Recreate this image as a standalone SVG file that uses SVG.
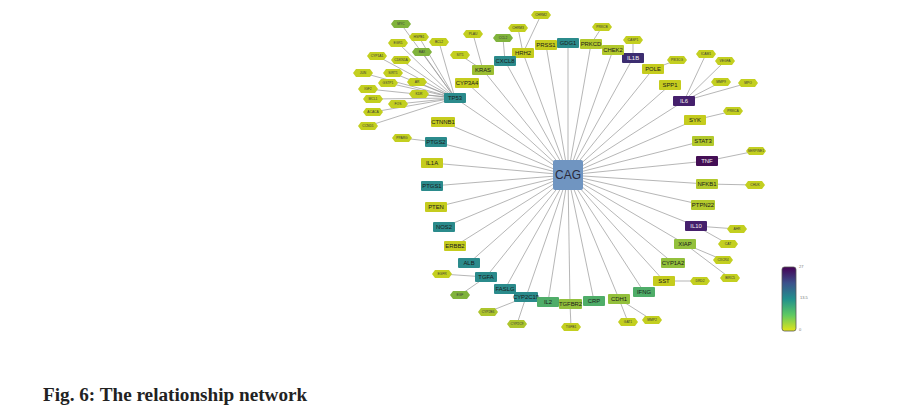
<svg xmlns="http://www.w3.org/2000/svg" xmlns:xlink="http://www.w3.org/1999/xlink" width="901" height="418" viewBox="0 0 901 418">
<style>
.e line{stroke:#969696;stroke-width:0.7}
.r{stroke:none}
.teal{fill:#2b8b8c}.yel{fill:#c5cc1e}.yg{fill:#b3c92c}.kr{fill:#9cbe32}.lg{fill:#93c03c}.grn{fill:#4fad69}.pur{fill:#45206c}.pur2{fill:#440f55}.pur3{fill:#3c2d70}
.hy{fill:#c3cf20}.hg{fill:#80b33c}.hy2{fill:#adc52d}
.t{font-family:"Liberation Sans",Arial,sans-serif;font-size:5.9px;text-anchor:middle;dominant-baseline:central;fill:#1a1a1a}
.w{fill:#f2f2f2}
.ht{font-family:"Liberation Sans",Arial,sans-serif;font-size:3.3px;text-anchor:middle;dominant-baseline:central;fill:#3a3a3a}
.cb{font-family:"Liberation Sans",Arial,sans-serif;font-size:4px;fill:#777}
</style>
<defs>
<polygon id="hx" points="-10,0 -7,-4 7,-4 10,0 7,4 -7,4"/>
<linearGradient id="vir" x1="0" y1="0" x2="0" y2="1">
<stop offset="0" stop-color="#440154"/>
<stop offset="0.25" stop-color="#3b518b"/>
<stop offset="0.5" stop-color="#21908d"/>
<stop offset="0.75" stop-color="#5ec962"/>
<stop offset="1" stop-color="#e2e418"/>
</linearGradient>
</defs>
<rect width="901" height="418" fill="#ffffff"/>
<g id="edges" class="e">
<line x1="568" y1="175" x2="568" y2="43"/>
<line x1="568" y1="175" x2="546" y2="45"/>
<line x1="568" y1="175" x2="523" y2="53"/>
<line x1="568" y1="175" x2="505" y2="61"/>
<line x1="568" y1="175" x2="483" y2="70"/>
<line x1="568" y1="175" x2="467" y2="83"/>
<line x1="568" y1="175" x2="455" y2="98"/>
<line x1="568" y1="175" x2="443" y2="122"/>
<line x1="568" y1="175" x2="436" y2="142"/>
<line x1="568" y1="175" x2="432" y2="163"/>
<line x1="568" y1="175" x2="432" y2="186"/>
<line x1="568" y1="175" x2="436" y2="207"/>
<line x1="568" y1="175" x2="444" y2="227"/>
<line x1="568" y1="175" x2="455" y2="246"/>
<line x1="568" y1="175" x2="469" y2="263"/>
<line x1="568" y1="175" x2="486" y2="277"/>
<line x1="568" y1="175" x2="505" y2="289"/>
<line x1="568" y1="175" x2="526" y2="297"/>
<line x1="568" y1="175" x2="548" y2="302"/>
<line x1="568" y1="175" x2="570" y2="304"/>
<line x1="568" y1="175" x2="594" y2="301"/>
<line x1="568" y1="175" x2="619" y2="299"/>
<line x1="568" y1="175" x2="644" y2="292"/>
<line x1="568" y1="175" x2="664" y2="281"/>
<line x1="568" y1="175" x2="673" y2="263"/>
<line x1="568" y1="175" x2="685" y2="244"/>
<line x1="568" y1="175" x2="696" y2="226"/>
<line x1="568" y1="175" x2="703" y2="205"/>
<line x1="568" y1="175" x2="707" y2="184"/>
<line x1="568" y1="175" x2="707" y2="161"/>
<line x1="568" y1="175" x2="703" y2="141"/>
<line x1="568" y1="175" x2="695" y2="120"/>
<line x1="568" y1="175" x2="684" y2="101"/>
<line x1="568" y1="175" x2="670" y2="85"/>
<line x1="568" y1="175" x2="653" y2="69"/>
<line x1="568" y1="175" x2="633" y2="58"/>
<line x1="568" y1="175" x2="613" y2="50"/>
<line x1="568" y1="175" x2="591" y2="44"/>
<line x1="455" y1="98" x2="401" y2="24"/>
<line x1="455" y1="98" x2="419" y2="37"/>
<line x1="455" y1="98" x2="439" y2="42"/>
<line x1="455" y1="98" x2="398" y2="43"/>
<line x1="455" y1="98" x2="422" y2="52"/>
<line x1="455" y1="98" x2="377" y2="56"/>
<line x1="455" y1="98" x2="401" y2="60"/>
<line x1="455" y1="98" x2="363" y2="73"/>
<line x1="455" y1="98" x2="393" y2="73"/>
<line x1="455" y1="98" x2="388" y2="83"/>
<line x1="455" y1="98" x2="417" y2="82"/>
<line x1="455" y1="98" x2="368" y2="89"/>
<line x1="455" y1="98" x2="373" y2="99"/>
<line x1="455" y1="98" x2="419" y2="94"/>
<line x1="455" y1="98" x2="398" y2="104"/>
<line x1="455" y1="98" x2="373" y2="112"/>
<line x1="455" y1="98" x2="368" y2="126"/>
<line x1="483" y1="70" x2="460" y2="55"/>
<line x1="483" y1="70" x2="473" y2="34"/>
<line x1="505" y1="61" x2="503" y2="38"/>
<line x1="523" y1="53" x2="518" y2="28"/>
<line x1="523" y1="53" x2="541" y2="15"/>
<line x1="591" y1="44" x2="602" y2="27"/>
<line x1="633" y1="58" x2="633" y2="40"/>
<line x1="653" y1="69" x2="677" y2="60"/>
<line x1="684" y1="101" x2="706" y2="54"/>
<line x1="684" y1="101" x2="725" y2="61"/>
<line x1="684" y1="101" x2="721" y2="82"/>
<line x1="684" y1="101" x2="748" y2="83"/>
<line x1="695" y1="120" x2="733" y2="111"/>
<line x1="707" y1="161" x2="756" y2="151"/>
<line x1="707" y1="184" x2="755" y2="185"/>
<line x1="696" y1="226" x2="737" y2="229"/>
<line x1="696" y1="226" x2="728" y2="244"/>
<line x1="685" y1="244" x2="723" y2="260"/>
<line x1="685" y1="244" x2="730" y2="278"/>
<line x1="664" y1="281" x2="700" y2="281"/>
<line x1="619" y1="299" x2="628" y2="322"/>
<line x1="619" y1="299" x2="652" y2="320"/>
<line x1="570" y1="304" x2="571" y2="327"/>
<line x1="486" y1="277" x2="442" y2="274"/>
<line x1="486" y1="277" x2="460" y2="295"/>
<line x1="526" y1="297" x2="488" y2="312"/>
<line x1="526" y1="297" x2="517" y2="324"/>
<line x1="436" y1="142" x2="402" y2="138"/>
</g>
<g id="hexes">
<g id="h-MYC"><use xlink:href="#hx" href="#hx" x="401" y="24" class="hg"/><text class="ht" x="401" y="24">MYC</text></g>
<g id="h-HSPB1"><use xlink:href="#hx" href="#hx" x="419" y="37" class="hy"/><text class="ht" x="419" y="37">HSPB1</text></g>
<g id="h-BCL2"><use xlink:href="#hx" href="#hx" x="439" y="42" class="hy"/><text class="ht" x="439" y="42">BCL2</text></g>
<g id="h-EGR1"><use xlink:href="#hx" href="#hx" x="398" y="43" class="hy"/><text class="ht" x="398" y="43">EGR1</text></g>
<g id="h-BAX"><use xlink:href="#hx" href="#hx" x="422" y="52" class="hg"/><text class="ht" x="422" y="52">BAX</text></g>
<g id="h-CYP1A1"><use xlink:href="#hx" href="#hx" x="377" y="56" class="hy"/><text class="ht" x="377" y="56">CYP1A1</text></g>
<g id="h-CDKN1A"><use xlink:href="#hx" href="#hx" x="401" y="60" class="hy"/><text class="ht" x="401" y="60">CDKN1A</text></g>
<g id="h-SIT1"><use xlink:href="#hx" href="#hx" x="460" y="55" class="hy"/><text class="ht" x="460" y="55">SIT1</text></g>
<g id="h-PLAU"><use xlink:href="#hx" href="#hx" x="473" y="34" class="hy"/><text class="ht" x="473" y="34">PLAU</text></g>
<g id="h-JUN"><use xlink:href="#hx" href="#hx" x="363" y="73" class="hy"/><text class="ht" x="363" y="73">JUN</text></g>
<g id="h-SIRT1"><use xlink:href="#hx" href="#hx" x="393" y="73" class="hy"/><text class="ht" x="393" y="73">SIRT1</text></g>
<g id="h-GSTP1"><use xlink:href="#hx" href="#hx" x="388" y="83" class="hy"/><text class="ht" x="388" y="83">GSTP1</text></g>
<g id="h-AR"><use xlink:href="#hx" href="#hx" x="417" y="82" class="hy"/><text class="ht" x="417" y="82">AR</text></g>
<g id="h-IGF2"><use xlink:href="#hx" href="#hx" x="368" y="89" class="hy"/><text class="ht" x="368" y="89">IGF2</text></g>
<g id="h-MCL1"><use xlink:href="#hx" href="#hx" x="373" y="99" class="hy"/><text class="ht" x="373" y="99">MCL1</text></g>
<g id="h-KDR"><use xlink:href="#hx" href="#hx" x="419" y="94" class="hy"/><text class="ht" x="419" y="94">KDR</text></g>
<g id="h-FOS"><use xlink:href="#hx" href="#hx" x="398" y="104" class="hy"/><text class="ht" x="398" y="104">FOS</text></g>
<g id="h-ACACA"><use xlink:href="#hx" href="#hx" x="373" y="112" class="hy"/><text class="ht" x="373" y="112">ACACA</text></g>
<g id="h-CCND1"><use xlink:href="#hx" href="#hx" x="368" y="126" class="hy"/><text class="ht" x="368" y="126">CCND1</text></g>
<g id="h-PPARG"><use xlink:href="#hx" href="#hx" x="402" y="138" class="hy"/><text class="ht" x="402" y="138">PPARG</text></g>
<g id="h-CCL2"><use xlink:href="#hx" href="#hx" x="503" y="38" class="hg"/><text class="ht" x="503" y="38">CCL2</text></g>
<g id="h-CHRM3"><use xlink:href="#hx" href="#hx" x="518" y="28" class="hy"/><text class="ht" x="518" y="28">CHRM3</text></g>
<g id="h-CHRM2"><use xlink:href="#hx" href="#hx" x="541" y="15" class="hy"/><text class="ht" x="541" y="15">CHRM2</text></g>
<g id="h-PRKCB"><use xlink:href="#hx" href="#hx" x="602" y="27" class="hy"/><text class="ht" x="602" y="27">PRKCB</text></g>
<g id="h-CASP1"><use xlink:href="#hx" href="#hx" x="633" y="40" class="hy"/><text class="ht" x="633" y="40">CASP1</text></g>
<g id="h-PIK3CG"><use xlink:href="#hx" href="#hx" x="677" y="60" class="hy"/><text class="ht" x="677" y="60">PIK3CG</text></g>
<g id="h-ICAM1"><use xlink:href="#hx" href="#hx" x="706" y="54" class="hy"/><text class="ht" x="706" y="54">ICAM1</text></g>
<g id="h-VEGFA"><use xlink:href="#hx" href="#hx" x="725" y="61" class="hy"/><text class="ht" x="725" y="61">VEGFA</text></g>
<g id="h-MMP9"><use xlink:href="#hx" href="#hx" x="721" y="82" class="hy"/><text class="ht" x="721" y="82">MMP9</text></g>
<g id="h-MPO"><use xlink:href="#hx" href="#hx" x="748" y="83" class="hy"/><text class="ht" x="748" y="83">MPO</text></g>
<g id="h-PRKCA"><use xlink:href="#hx" href="#hx" x="733" y="111" class="hy"/><text class="ht" x="733" y="111">PRKCA</text></g>
<g id="h-SERPINE1"><use xlink:href="#hx" href="#hx" x="756" y="151" class="hy"/><text class="ht" x="756" y="151">SERPINE1</text></g>
<g id="h-CHUK"><use xlink:href="#hx" href="#hx" x="755" y="185" class="hy"/><text class="ht" x="755" y="185">CHUK</text></g>
<g id="h-AHR"><use xlink:href="#hx" href="#hx" x="737" y="229" class="hy"/><text class="ht" x="737" y="229">AHR</text></g>
<g id="h-CAT"><use xlink:href="#hx" href="#hx" x="728" y="244" class="hy"/><text class="ht" x="728" y="244">CAT</text></g>
<g id="h-CXCR4"><use xlink:href="#hx" href="#hx" x="723" y="260" class="hy"/><text class="ht" x="723" y="260">CXCR4</text></g>
<g id="h-BIRC5"><use xlink:href="#hx" href="#hx" x="730" y="278" class="hy"/><text class="ht" x="730" y="278">BIRC5</text></g>
<g id="h-DRD2"><use xlink:href="#hx" href="#hx" x="700" y="281" class="hy"/><text class="ht" x="700" y="281">DRD2</text></g>
<g id="h-GAT1"><use xlink:href="#hx" href="#hx" x="628" y="322" class="hy"/><text class="ht" x="628" y="322">GAT1</text></g>
<g id="h-MMP2"><use xlink:href="#hx" href="#hx" x="652" y="320" class="hy"/><text class="ht" x="652" y="320">MMP2</text></g>
<g id="h-TGFB1"><use xlink:href="#hx" href="#hx" x="571" y="327" class="hy"/><text class="ht" x="571" y="327">TGFB1</text></g>
<g id="h-EGFR"><use xlink:href="#hx" href="#hx" x="442" y="274" class="hy"/><text class="ht" x="442" y="274">EGFR</text></g>
<g id="h-EGF"><use xlink:href="#hx" href="#hx" x="460" y="295" class="hg"/><text class="ht" x="460" y="295">EGF</text></g>
<g id="h-CYP2B6"><use xlink:href="#hx" href="#hx" x="488" y="312" class="hy2"/><text class="ht" x="488" y="312">CYP2B6</text></g>
<g id="h-CYP2C9"><use xlink:href="#hx" href="#hx" x="517" y="324" class="hy2"/><text class="ht" x="517" y="324">CYP2C9</text></g>
</g>
<g id="genes">
<g id="n-GDG1"><rect class="teal" x="557" y="38" width="22" height="10" rx="1"/><text class="t" x="568" y="43">GDG1</text></g>
<g id="n-PRSS1"><rect class="yel" x="535" y="40" width="22" height="10" rx="1"/><text class="t" x="546" y="45">PRSS1</text></g>
<g id="n-HRH2"><rect class="yel" x="512" y="48" width="22" height="10" rx="1"/><text class="t" x="523" y="53">HRH2</text></g>
<g id="n-CXCL8"><rect class="teal" x="494" y="56" width="22" height="10" rx="1"/><text class="t" x="505" y="61">CXCL8</text></g>
<g id="n-KRAS"><rect class="kr" x="472" y="65" width="22" height="10" rx="1"/><text class="t" x="483" y="70">KRAS</text></g>
<g id="n-CYP3A4"><rect class="yel" x="455" y="78" width="24" height="10" rx="1"/><text class="t" x="467" y="83">CYP3A4</text></g>
<g id="n-TP53"><rect class="teal" x="444" y="93" width="22" height="10" rx="1"/><text class="t" x="455" y="98">TP53</text></g>
<g id="n-CTNNB1"><rect class="yel" x="431" y="117" width="24" height="10" rx="1"/><text class="t" x="443" y="122">CTNNB1</text></g>
<g id="n-PTGS2"><rect class="teal" x="425" y="137" width="22" height="10" rx="1"/><text class="t" x="436" y="142">PTGS2</text></g>
<g id="n-IL1A"><rect class="yel" x="421" y="158" width="22" height="10" rx="1"/><text class="t" x="432" y="163">IL1A</text></g>
<g id="n-PTGS1"><rect class="teal" x="421" y="181" width="22" height="10" rx="1"/><text class="t" x="432" y="186">PTGS1</text></g>
<g id="n-PTEN"><rect class="yel" x="425" y="202" width="22" height="10" rx="1"/><text class="t" x="436" y="207">PTEN</text></g>
<g id="n-NOS2"><rect class="teal" x="433" y="222" width="22" height="10" rx="1"/><text class="t" x="444" y="227">NOS2</text></g>
<g id="n-ERBB2"><rect class="yel" x="444" y="241" width="22" height="10" rx="1"/><text class="t" x="455" y="246">ERBB2</text></g>
<g id="n-ALB"><rect class="teal" x="458" y="258" width="22" height="10" rx="1"/><text class="t" x="469" y="263">ALB</text></g>
<g id="n-TGFA"><rect class="teal" x="475" y="272" width="22" height="10" rx="1"/><text class="t" x="486" y="277">TGFA</text></g>
<g id="n-FASLG"><rect class="teal" x="494" y="284" width="22" height="10" rx="1"/><text class="t" x="505" y="289">FASLG</text></g>
<g id="n-CYP2C19"><rect class="teal" x="514" y="292" width="24" height="10" rx="1"/><text class="t" x="526" y="297">CYP2C19</text></g>
<g id="n-IL2"><rect class="grn" x="537" y="297" width="22" height="10" rx="1"/><text class="t" x="548" y="302">IL2</text></g>
<g id="n-TGFBR2"><rect class="lg" x="559" y="299" width="23" height="10" rx="1"/><text class="t" x="570.5" y="304">TGFBR2</text></g>
<g id="n-CRP"><rect class="grn" x="583" y="296" width="22" height="10" rx="1"/><text class="t" x="594" y="301">CRP</text></g>
<g id="n-CDH1"><rect class="lg" x="608" y="294" width="22" height="10" rx="1"/><text class="t" x="619" y="299">CDH1</text></g>
<g id="n-IFNG"><rect class="grn" x="633" y="287" width="22" height="10" rx="1"/><text class="t" x="644" y="292">IFNG</text></g>
<g id="n-SST"><rect class="yel" x="653" y="276" width="22" height="10" rx="1"/><text class="t" x="664" y="281">SST</text></g>
<g id="n-CYP1A2"><rect class="lg" x="661" y="258" width="24" height="10" rx="1"/><text class="t" x="673" y="263">CYP1A2</text></g>
<g id="n-XIAP"><rect class="lg" x="674" y="239" width="22" height="10" rx="1"/><text class="t" x="685" y="244">XIAP</text></g>
<g id="n-IL10"><rect class="pur" x="685" y="221" width="22" height="10" rx="1"/><text class="t w" x="696" y="226">IL10</text></g>
<g id="n-PTPN22"><rect class="yg" x="691" y="200" width="24" height="10" rx="1"/><text class="t" x="703" y="205">PTPN22</text></g>
<g id="n-NFKB1"><rect class="yg" x="696" y="179" width="22" height="10" rx="1"/><text class="t" x="707" y="184">NFKB1</text></g>
<g id="n-TNF"><rect class="pur2" x="696" y="156" width="22" height="10" rx="1"/><text class="t w" x="707" y="161">TNF</text></g>
<g id="n-STAT3"><rect class="yg" x="692" y="136" width="22" height="10" rx="1"/><text class="t" x="703" y="141">STAT3</text></g>
<g id="n-SYK"><rect class="yel" x="684" y="115" width="22" height="10" rx="1"/><text class="t" x="695" y="120">SYK</text></g>
<g id="n-IL6"><rect class="pur" x="673" y="96" width="22" height="10" rx="1"/><text class="t w" x="684" y="101">IL6</text></g>
<g id="n-SPP1"><rect class="yel" x="659" y="80" width="22" height="10" rx="1"/><text class="t" x="670" y="85">SPP1</text></g>
<g id="n-POLE"><rect class="yel" x="642" y="64" width="22" height="10" rx="1"/><text class="t" x="653" y="69">POLE</text></g>
<g id="n-IL1B"><rect class="pur3" x="622" y="53" width="22" height="10" rx="1"/><text class="t w" x="633" y="58">IL1B</text></g>
<g id="n-CHEK2"><rect class="yg" x="602" y="45" width="22" height="10" rx="1"/><text class="t" x="613" y="50">CHEK2</text></g>
<g id="n-PRKCD"><rect class="yg" x="580" y="39" width="22" height="10" rx="1"/><text class="t" x="591" y="44">PRKCD</text></g>
</g>
<g id="n-CAG"><rect x="553" y="160" width="30" height="30" rx="2" fill="#7095c1"/><text x="568" y="175" font-family="Liberation Sans, Arial, sans-serif" font-size="12" text-anchor="middle" dominant-baseline="central" fill="#2a2a3a">CAG</text></g>
<g id="legend">
<rect x="782" y="267" width="14" height="64" rx="2.5" fill="url(#vir)" stroke="#555" stroke-width="0.8"/>
<text class="cb" x="799" y="268">27</text>
<text class="cb" x="800" y="299">13.5</text>
<text class="cb" x="799" y="331">0</text>
</g>
<text x="43" y="401" font-family="Liberation Serif, Times New Roman, serif" font-weight="bold" font-size="19.2" fill="#222">Fig. 6: The relationship network</text>
</svg>
